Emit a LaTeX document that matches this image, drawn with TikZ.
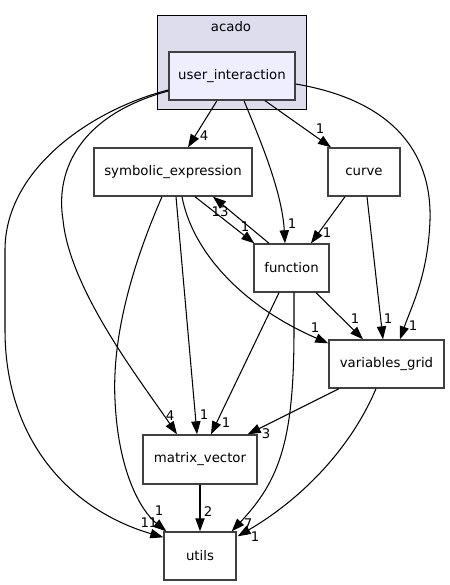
\documentclass[tikz,border=0pt]{standalone}
\usepackage{fontspec}
\setmainfont{DejaVu Sans}
\usetikzlibrary{arrows.meta,calc}
\definecolor{clusterfill}{HTML}{DDDDEE}
\definecolor{uifill}{HTML}{EEEEFF}
\definecolor{boxline}{HTML}{404040}
\begin{document}
\begin{tikzpicture}[x=1pt,y=-1pt,
  every node/.style={font=\fontsize{13.3}{15}\selectfont},
  dirbox/.style={draw=boxline,line width=1.4pt,fill=white,inner sep=0pt,minimum height=48pt},
  edge/.style={draw=black,line width=1.05pt,-{Triangle[length=13pt,width=9.3pt]}},
  elabel/.style={inner sep=0pt,font=\fontsize{13.3}{15}\selectfont}
]
\useasboundingbox (0,0) rectangle (449,585);
\fill[white] (0,0) rectangle (449,585);
% cluster
\draw[draw=black,line width=1pt,fill=clusterfill] (157,16) rectangle (306,110);
\node (acado) at (231,27) {acado};
% nodes
\node[dirbox,fill=uifill,minimum width=126pt] (ui) at (232,76) {user\_interaction};
\node[dirbox,minimum width=158pt] (se) at (173,172) {symbolic\_expression};
\node[dirbox,minimum width=72pt] (curve) at (364,172) {curve};
\node[dirbox,minimum width=75pt] (fn) at (291.5,268) {function};
\node[dirbox,minimum width=115pt] (vg) at (386.5,364) {variables\_grid};
\node[dirbox,minimum width=114pt,minimum height=49pt] (mv) at (200,459.5) {matrix\_vector};
\node[dirbox,minimum width=72pt] (utils) at (200,556) {utils};
% edges
\draw[edge] ($(ui.south)+(-15,0)$) -- ($(se.north)+(15,0)$);
\draw[edge] ($(ui.south)+(12,0)$) .. controls (258,135) and (282,190) .. ($(fn.north)+(-6.5,0)$);
\draw[edge] ($(ui.south)+(33,0)$) -- ($(curve.north)+(-33,0)$);
\draw[edge] ($(ui.east)+(0,8)$) .. controls (390,100) and (432,150) .. (430,220) .. controls (428,275) and (412,305) .. ($(vg.north)+(13.5,0)$);
\draw[edge] ($(ui.west)+(0,15)$) .. controls (80,115) and (55,170) .. (63,220) .. controls (70,290) and (140,380) .. ($(mv.north)+(-23,0)$);
\draw[edge] ($(ui.west)+(0,14)$) .. controls (90,110) and (5,170) .. (5,250) -- (5,330) .. controls (5,440) and (70,510) .. ($(utils.north west)+(0,6)$);
\draw[edge] ($(se.south)+(22,0)$) -- ($(fn.north west)+(1,0)$);
\draw[edge] ($(fn.north)+(-22.5,0)$) -- ($(se.south)+(40,0)$);
\draw[edge] ($(se.south)+(9,0)$) .. controls (192,250) and (240,305) .. ($(vg.north west)+(0,4)$);
\draw[edge] ($(se.south)+(3,0)$) -- ($(mv.north)+(-3,0)$);
\draw[edge] ($(se.south)+(-11,0)$) .. controls (130,270) and (112,340) .. (115,400) .. controls (118,470) and (140,510) .. ($(utils.north west)+(3,0)$);
\draw[edge] ($(curve.south)+(-19,0)$) -- ($(fn.north)+(19.5,0)$);
\draw[edge] ($(curve.south)+(3,0)$) -- ($(vg.north)+(-3.5,0)$);
\draw[edge] ($(fn.south)+(24.5,0)$) -- ($(vg.north)+(-23.5,0)$);
\draw[edge] ($(fn.south)+(-12.5,0)$) -- ($(mv.north)+(11,0)$);
\draw[edge] ($(fn.south)+(2.5,0)$) -- (294,330) .. controls (294,440) and (280,480) .. ($(utils.north east)+(-5,0)$);
\draw[edge] ($(vg.south)+(-47.5,0)$) -- ($(mv.north east)+(-10,0)$);
\draw[edge] ($(vg.south)+(-10.5,0)$) .. controls (350,450) and (300,500) .. ($(utils.north east)+(1,5)$);
\draw[edge] (mv.south) -- (utils.north);
% edge labels
\node[elabel] (l1) at (204,136) {4};
\node[elabel] (l2) at (292,224) {1};
\node[elabel] (l3) at (320,129) {1};
\node[elabel] (l4) at (413,326) {1};
\node[elabel] (l5) at (170,416) {4};
\node[elabel] (l6) at (149,523) {11};
\node[elabel] (l7) at (245,227) {1};
\node[elabel] (l8) at (220,212) {13};
\node[elabel] (l9) at (315,328) {1};
\node[elabel] (l10) at (204,415) {1};
\node[elabel] (l11) at (159,511) {1};
\node[elabel] (l12) at (327,233) {1};
\node[elabel] (l13) at (388,319) {1};
\node[elabel] (l14) at (355,319) {1};
\node[elabel] (l15) at (226,423) {1};
\node[elabel] (l16) at (248,524) {7};
\node[elabel] (l17) at (266,434) {3};
\node[elabel] (l18) at (255,537) {1};
\node[elabel] (l19) at (208,512) {2};
\end{tikzpicture}
\end{document}
